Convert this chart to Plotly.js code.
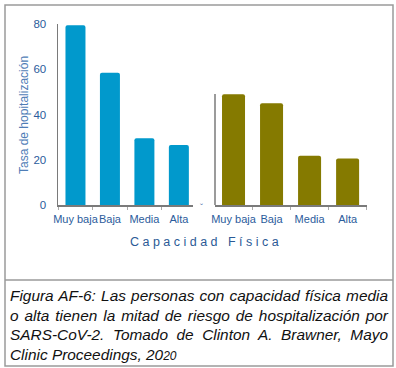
<!DOCTYPE html>
<html>
<head>
<meta charset="utf-8">
<script src="https://cdn.plot.ly/plotly-3.0.1.min.js"></script>
<style>
  html, body { margin:0; padding:0; background:#fff; }
  #wrap { position:relative; width:396px; height:368px; }
  #chart { position:absolute; left:0; top:0; width:396px; height:368px; }
  #caption { position:absolute; left:10px; top:286px; width:378px;
    font-family:"Liberation Sans", Arial, sans-serif; font-style:italic;
    font-size:15.4px; line-height:19.6px; color:#111; }
  #caption .j { text-align:justify; text-align-last:justify; white-space:nowrap; }
  #caption .small { font-size:12px; }
</style>
</head>
<body>
<div id="wrap">
  <div id="chart"></div>
  <div id="caption">
    <div class="j">Figura AF-6: Las personas con capacidad física media</div>
    <div class="j">o alta tienen la mitad de riesgo de hospitalización por</div>
    <div class="j">SARS-CoV-2. Tomado de Clinton A. Brawner, Mayo</div>
    <div><span>Clinic Proceedings, 20</span><span class="small">20</span></div>
  </div>
</div>
<script>
// Data
const categories = ["Muy baja", "Baja", "Media", "Alta"];
const leftValues = [79.5, 58.5, 29.5, 26.5];
const rightValues = [49, 45, 21.8, 20.5];
const yTicks = [0, 20, 40, 60, 80];

const W = 396, H = 368;
const px = x => x / W;
const py = y => 1 - y / H;

const tickColor = "#2b5c9c";
const traces = [
  { type: "bar", x: categories, y: leftValues, xaxis: "x", yaxis: "y",
    width: 0.58, marker: { color: "#0199cc", cornerradius: 2, line: { width: 0 } },
    hoverinfo: "x+y" },
  { type: "bar", x: categories, y: rightValues, xaxis: "x2", yaxis: "y2",
    width: 0.605, marker: { color: "#857a00", cornerradius: 2, line: { width: 0 } },
    hoverinfo: "x+y" }
];

const axisX = (dom, rng) => ({
  domain: dom, range: rng, type: "category", showgrid: false, zeroline: false,
  showline: true, linecolor: "#7a7a7a", linewidth: 1.5,
  ticks: "outside", tickson: "boundaries", ticklen: 3, tickcolor: "#aaa", tickwidth: 1,
  tickangle: 0, automargin: false, ticklabelstandoff: 3,
  tickfont: { family: "Liberation Sans, Arial, sans-serif", size: 11, color: tickColor },
  fixedrange: true
});

const layout = {
  width: W, height: H,
  margin: { l: 0, r: 0, t: 0, b: 0 },
  paper_bgcolor: "rgba(0,0,0,0)", plot_bgcolor: "rgba(0,0,0,0)",
  showlegend: false,
  xaxis: axisX([px(58), px(193)], [-0.507, 3.41]),
  xaxis2: Object.assign(axisX([px(215), px(367)], [-0.487, 3.51]), { anchor: "y2" }),
  yaxis: {
    domain: [py(205), py(24)], range: [0, 80], anchor: "x",
    tickvals: yTicks, showgrid: false, zeroline: false, automargin: false,
    showline: true, linecolor: "#7a7a7a", linewidth: 1.5, ticks: "", ticklabelstandoff: 8,
    tickfont: { family: "Liberation Sans, Arial, sans-serif", size: 11.5, color: tickColor },
    fixedrange: true
  },
  yaxis2: {
    domain: [py(205), py(24)], range: [0, 80], anchor: "x2",
    showticklabels: false, showgrid: false, zeroline: false, showline: false, ticks: "",
    fixedrange: true
  },
  shapes: [
    { type: "line", xref: "paper", yref: "paper", x0: px(215), x1: px(215), y0: py(205), y1: py(94),
      line: { color: "#7a7a7a", width: 1.5 } },
    { type: "rect", xref: "paper", yref: "paper", x0: px(5), x1: px(393), y0: py(366), y1: py(5),
      line: { color: "#9a9a9a", width: 1.5 } },
    { type: "line", xref: "paper", yref: "paper", x0: px(5), x1: px(393), y0: py(280), y1: py(280),
      line: { color: "#9a9a9a", width: 1.5 } }
  ],
  annotations: [
    { xref: "paper", yref: "paper", x: px(24), y: py(115), xanchor: "center", yanchor: "middle",
      showarrow: false, textangle: -90,
      text: "Tasa de hopitalización",
      font: { family: "Liberation Sans, Arial, sans-serif", size: 12, color: "#4f7db6" } },
    { xref: "paper", yref: "paper", x: px(205), y: py(242), xanchor: "center", yanchor: "middle",
      showarrow: false,
      text: "C a p a c i d a d   F í s i c a",
      font: { family: "Liberation Sans, Arial, sans-serif", size: 12.5, color: "#2b5a96" } },
    { xref: "paper", yref: "paper", x: px(202), y: py(207), xanchor: "center", yanchor: "middle",
      showarrow: false,
      text: "ˇ", font: { family: "Liberation Sans, Arial, sans-serif", size: 9, color: "#5a7ab0" } }
  ]
};

Plotly.newPlot("chart", traces, layout, { displayModeBar: false, staticPlot: true });
</script>
</body>
</html>
